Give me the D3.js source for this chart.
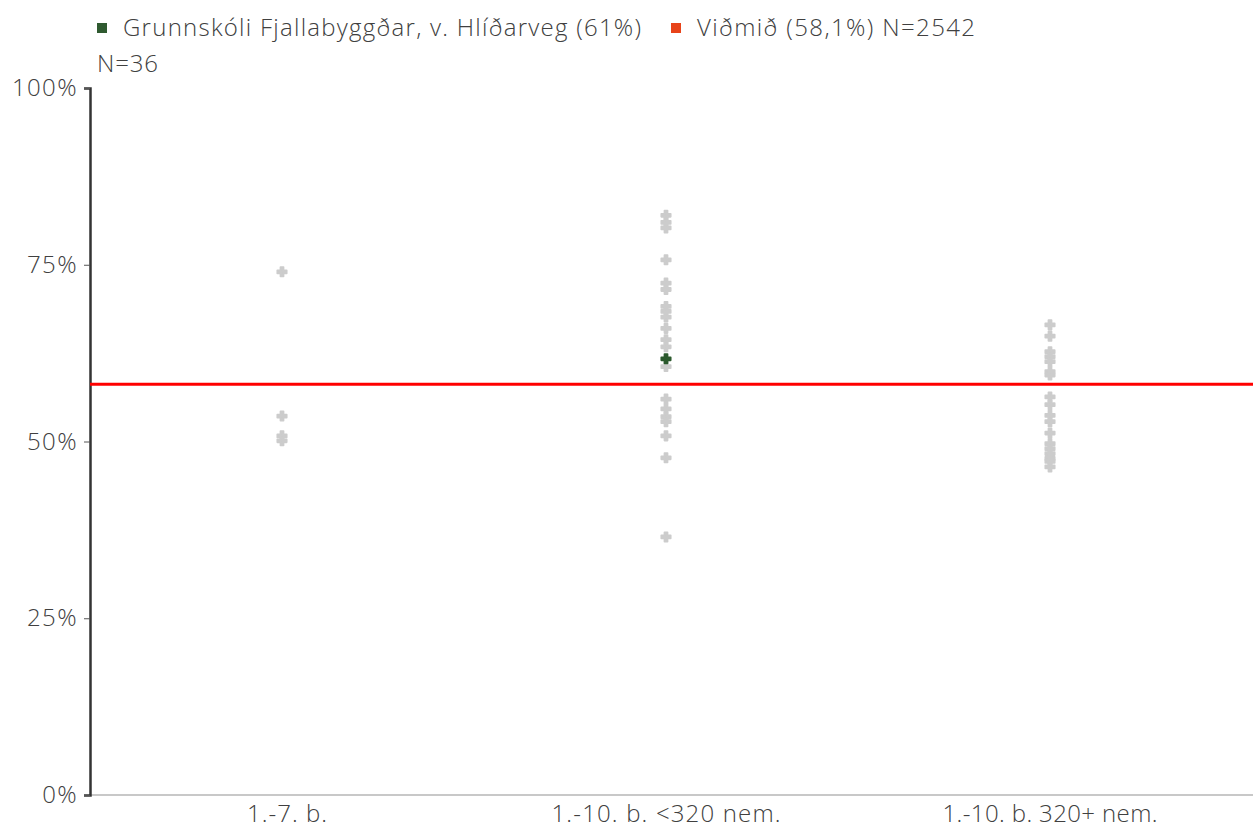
<!DOCTYPE html>
<html><head><meta charset="utf-8">
<script src="https://cdn.jsdelivr.net/npm/d3@7"></script>
<style>html,body{margin:0;padding:0;background:#fff;}svg{display:block;}</style>
</head><body><svg id="c" width="1253" height="829"></svg>
<script>
const categories = ["1.-7. b.", "1.-10. b. <320 nem.", "1.-10. b. 320+ nem."];
const cat1Values = [74.0, 53.6, 50.8, 50.1];
const cat2Values = [82.0, 81.0, 80.2, 75.7, 72.4, 71.5, 69.1, 68.4, 67.6, 66.0, 64.4, 63.4, 60.6, 56.0, 54.6, 53.5, 52.8, 50.8, 47.7, 36.5];
const cat3Values = [66.5, 64.9, 62.7, 62.0, 61.3, 59.9, 59.4, 56.3, 55.2, 53.7, 52.8, 51.2, 49.7, 49.0, 48.3, 47.6, 47.2, 46.4];
const highlightCategory = "1.-10. b. <320 nem.";
const highlightValue = 61.7;
const referenceValue = 58.1;
const yTicks = [0, 25, 50, 75, 100];
const legendLabels = ["Grunnskóli Fjallabyggðar, v. Hlíðarveg (61%)", "Viðmið (58,1%) N=2542"];
const subLabel = "N=36";

const svg = d3.select("#c");
const font = "'Open Sans', 'Noto Sans', sans-serif";
const fw = 300;
const m = {left: 90, right: 11, top: 88, bottom: 34};
const W = 1253, H = 829;
const x = d3.scaleBand().domain(categories).range([m.left, W - m.right]);
const y = d3.scaleLinear().domain([0, 100]).range([H - m.bottom, m.top]);

// x axis line
svg.append("line").attr("x1", m.left).attr("x2", W).attr("y1", y(0)).attr("y2", y(0))
  .attr("stroke", "#c8c8c8").attr("stroke-width", 2);

// category labels
const catWidths = [80, 229, 215];
svg.append("g").selectAll("text").data(categories).join("text")
  .attr("x", (d, i) => x(d) + x.bandwidth() / 2 + (i === 0 ? 5 : 0)).attr("y", y(0) + 27)
  .attr("text-anchor", "middle").attr("font-family", font).attr("font-weight", fw).attr("font-size", 24)
  .attr("textLength", (d, i) => catWidths[i]).attr("lengthAdjust", "spacing")
  .attr("fill", "#404040").text(d => d);

// y axis
const yAxis = svg.append("g").attr("transform", `translate(${m.left},0)`)
  .call(d3.axisLeft(y).tickValues(yTicks).tickFormat(d => d + "%").tickSize(6).tickPadding(6));
yAxis.select(".domain").attr("stroke", "#333").attr("stroke-width", 2.5);
yAxis.selectAll(".tick line").attr("stroke", "#555").attr("stroke-width", 1);
yAxis.selectAll(".tick text").attr("font-family", font).attr("font-weight", fw).attr("font-size", 24)
  .attr("letter-spacing", 1.4).attr("fill", "#404040");

// points
const pts = [];
[cat1Values, cat2Values, cat3Values].forEach((arr, i) => arr.forEach(v => pts.push({c: categories[i], v})));
const sym = d3.symbol().type(d3.symbolCross).size(50);
svg.append("g").selectAll("path").data(pts).join("path")
  .attr("d", sym)
  .attr("transform", d => `translate(${x(d.c) + x.bandwidth() / 2},${y(d.v)})`)
  .attr("fill", "#cccccc").attr("stroke", "#cccccc").attr("stroke-width", 1.6).attr("stroke-linejoin", "round");

// reference line
svg.append("line").attr("x1", m.left).attr("x2", W).attr("y1", y(referenceValue)).attr("y2", y(referenceValue))
  .attr("stroke", "#ff0000").attr("stroke-width", 3);

// highlight
svg.append("path").attr("d", sym)
  .attr("transform", `translate(${x(highlightCategory) + x.bandwidth() / 2},${y(highlightValue)})`)
  .attr("fill", "#2c5a2e").attr("stroke", "#2c5a2e").attr("stroke-width", 1.6).attr("stroke-linejoin", "round");

// legend
const leg = [{t: legendLabels[0], c: "#2f5a30", x: 97, w: 518}, {t: legendLabels[1], c: "#e8431a", x: 671, w: 278}];
leg.forEach(l => {
  svg.append("rect").attr("x", l.x).attr("y", 23).attr("width", 10).attr("height", 10).attr("fill", l.c);
  svg.append("text").attr("x", l.x + 26).attr("y", 36).attr("font-family", font).attr("font-weight", fw)
    .attr("font-size", 24).attr("textLength", l.w).attr("lengthAdjust", "spacing")
    .attr("fill", "#404040").text(l.t);
});
svg.append("text").attr("x", 97).attr("y", 72).attr("font-family", font).attr("font-weight", fw).attr("font-size", 24)
  .attr("textLength", 61).attr("lengthAdjust", "spacing").attr("fill", "#404040").text(subLabel);
</script></body></html>
